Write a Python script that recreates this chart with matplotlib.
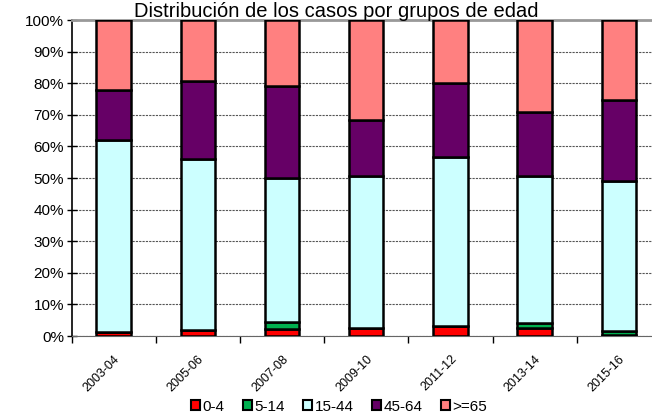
import numpy as np
import matplotlib.pyplot as plt
from matplotlib.patches import Patch

plt.rcParams['font.family'] = ['Liberation Sans', 'DejaVu Sans']

# Datos (porcentaje por grupo de edad)
temporadas = ['2003-04', '2005-06', '2007-08', '2009-10', '2011-12', '2013-14', '2015-16']
grupos = ['0-4', '5-14', '15-44', '45-64', '>=65']
g_0_4 = [1.3, 1.8, 2.1, 2.6, 3.3, 2.7, 0.2]
g_5_14 = [0.0, 0.0, 2.3, 0.0, 0.0, 1.5, 1.4]
g_15_44 = [60.7, 54.2, 45.6, 48.0, 53.3, 46.4, 47.4]
g_45_64 = [15.8, 24.7, 29.0, 17.8, 23.4, 20.3, 25.7]
g_65 = [22.2, 19.3, 21.0, 31.6, 20.0, 29.1, 25.3]
colores = ['#FF0000', '#00B050', '#CCFFFF', '#660066', '#FF8080']

series = [g_0_4, g_5_14, g_15_44, g_45_64, g_65]

fig = plt.figure(figsize=(6.52, 4.18), dpi=100)
ax = fig.add_axes([0.1097, 0.196, 0.904, 0.756])

x = np.arange(len(temporadas)) + 0.5
base = np.zeros(len(temporadas))
for vals, col in zip(series, colores):
    ax.bar(x, vals, width=0.41, bottom=base, color=col, edgecolor='black',
           linewidth=1.8, zorder=3)
    base += np.array(vals)

ax.set_xlim(0, len(temporadas))
ax.set_ylim(0, 100)
ax.set_yticks(np.arange(0, 101, 10))
ax.set_yticklabels([f'{v}%' for v in range(0, 101, 10)], fontsize=11)
ax.yaxis.grid(True, linestyle=(0, (2, 1)), color='#555555', linewidth=0.8, zorder=0)
ax.tick_params(axis='y', direction='inout', length=7, width=1, pad=2)

ax.set_xticks(np.arange(0, len(temporadas) + 1))
ax.set_xticklabels([])
ax.set_xticks(x, minor=True)
ax.set_xticklabels(temporadas, minor=True, rotation=45, ha='right',
                   rotation_mode='anchor', fontsize=9)
ax.tick_params(axis='x', which='major', direction='out', length=5, width=1)
ax.tick_params(axis='x', which='minor', length=0, pad=12)

ax.spines['top'].set_color('#999999')
ax.spines['top'].set_linewidth(2)
ax.spines['right'].set_visible(False)
ax.spines['bottom'].set_color('#666666')
ax.spines['left'].set_linewidth(1.2)

fig.text(0.515, 0.972, 'Distribución de los casos por grupos de edad',
         ha='center', va='center', fontsize=14.5)

handles = [Patch(facecolor=c, edgecolor='black', linewidth=1.5) for c in colores]
fig.legend(handles, grupos, loc='center', bbox_to_anchor=(0.52, 0.027), ncol=5,
           frameon=False, fontsize=11, handlelength=0.6, handleheight=0.6,
           handletextpad=0.15, columnspacing=1.2, borderpad=0)

plt.savefig('out.png', dpi=100)
